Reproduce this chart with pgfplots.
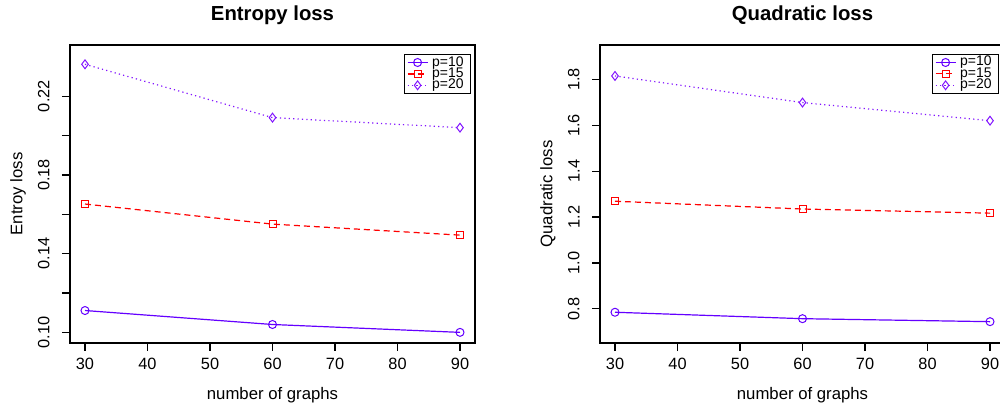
\documentclass[border=0pt]{standalone}
\usepackage{fontspec}
\setmainfont{Liberation Sans}
\usepackage{pgfplots}
\pgfplotsset{compat=1.18}

\definecolor{pten}{RGB}{100,0,255}
\definecolor{pfift}{RGB}{255,0,0}
\definecolor{ptwen}{RGB}{130,20,255}

\pgfplotsset{
    rbase/.style={
        scale only axis,
        width=202.5bp,
        height=149bp,
        anchor=south west,
        axis line style={line width=0.6bp, black},
        tick align=outside,
        tick style={line width=0.6bp, black},
        major tick length=4bp,
        xtick pos=bottom,
        ytick pos=left,
        xmin=27.6, xmax=92.4,
        xtick={30,40,50,60,70,80,90},
        /pgf/number format/assume math mode=true,
        tick label style={font=\fontsize{8.2}{10}\selectfont},
        xticklabel style={anchor=north, inner sep=0pt, yshift=-3.5bp},
        yticklabel style={rotate=90, anchor=south, inner sep=0pt, yshift=6bp},
        every axis x label/.style={at={(axis description cs:0.5,0)}, anchor=center, yshift=-26bp,
            font=\fontsize{8.4}{10}\selectfont},
        every axis y label/.style={at={(axis description cs:0,0.5)}, rotate=90, anchor=center, yshift=26bp,
            font=\fontsize{8.4}{10}\selectfont},
        every axis title/.style={at={(axis description cs:0.5,1)}, anchor=center, yshift=15bp,
            font=\fontsize{10.2}{12}\selectfont\bfseries},
        legend style={
            at={(axis description cs:1,1)}, anchor=north east,
            xshift=-2bp, yshift=-4.5bp,
            font=\fontsize{7}{8}\selectfont,
            draw=black, line width=0.4bp,
            inner xsep=1.5bp, inner ysep=0.8bp,
            row sep=-0.8bp,
            nodes={inner xsep=2bp, inner ysep=0pt, text depth=1.5bp, text height=5bp},
            cells={anchor=west},
        },
        legend image code/.code={
            \draw[mark repeat=2, mark phase=2, #1]
                plot coordinates {(0bp,0bp) (5bp,0bp) (10bp,0bp)};
        },
        legend cell align=left,
        clip=false,
    },
    sten/.style={color=pten, line width=0.6bp, mark=o, mark size=2bp,
        mark options={solid, line width=0.5bp}},
    sfift/.style={color=pfift, line width=0.6bp, dash pattern=on 3bp off 2bp,
        mark=square, mark size=1.75bp, mark options={solid, line width=0.5bp}},
    stwen/.style={color=ptwen, line width=0.6bp, dash pattern=on 0.6bp off 1.6bp,
        mark=diamond, mark size=2.2bp, mark options={solid, line width=0.5bp}},
}

\begin{document}
\begin{tikzpicture}
    \clip (0bp,0bp) rectangle (500bp,205.5bp);
    \path[use as bounding box] (0bp,0bp) rectangle (500bp,205.5bp);

    % left panel
    \begin{axis}[
        rbase,
        at={(35bp,34bp)},
        ymin=0.0946, ymax=0.246,
        ytick={0.10,0.12,0.14,0.16,0.18,0.20,0.22},
        yticklabels={0.10,,0.14,,0.18,,0.22},
        title={Entropy loss},
        xlabel={number of graphs},
        ylabel={Entroy loss},
    ]
        \addplot[sten] coordinates {(30,0.1111) (60,0.1040) (90,0.1000)};
        \addplot[sfift] coordinates {(30,0.1652) (60,0.1550) (90,0.1494)};
        \addplot[stwen] coordinates {(30,0.2362) (60,0.2091) (90,0.2040)};
        \legend{p=10\hspace{4bp}, p=15\hspace{4bp}, p=20\hspace{4bp}}
    \end{axis}

    % right panel
    \begin{axis}[
        rbase,
        at={(300bp,34bp)},
        ymin=0.651, ymax=1.950,
        ytick={0.8,1.0,1.2,1.4,1.6,1.8},
        yticklabels={0.8,1.0,1.2,1.4,1.6,1.8},
        title={Quadratic loss},
        xlabel={number of graphs},
        ylabel={Quadratic loss},
        legend style={xshift=-1bp},
    ]
        \addplot[sten] coordinates {(30,0.785) (60,0.757) (90,0.744)};
        \addplot[sfift] coordinates {(30,1.269) (60,1.235) (90,1.217)};
        \addplot[stwen] coordinates {(30,1.815) (60,1.699) (90,1.620)};
        \legend{p=10\hspace{4bp}, p=15\hspace{4bp}, p=20\hspace{4bp}}
    \end{axis}
\end{tikzpicture}
\end{document}
